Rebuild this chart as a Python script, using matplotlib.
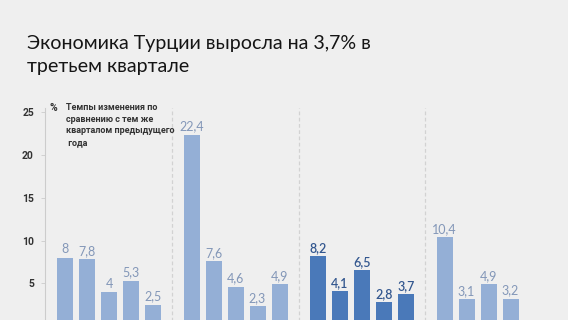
import numpy as np
import matplotlib.pyplot as plt

# values, % change vs same quarter of previous year
group1 = [8, 7.8, 4, 5.3, 2.5]
group2 = [22.4, 7.6, 4.6, 2.3, 4.9]
group3 = [8.2, 4.1, 6.5, 2.8, 3.7]
group4 = [10.4, 3.1, 4.9, 3.2]
groups = [group1, group2, group3, group4]
highlight = [False, False, True, False]
yticks = [5, 10, 15, 20, 25]

title_lines = ["Экономика Турции выросла на 3,7% в", "третьем квартале"]
note = "Темпы изменения по\nсравнению с тем же\nкварталом предыдущего\n года"

BG = "#efefef"
LIGHT = "#94afd6"
DARK = "#4a79b9"
LIGHT_TXT = "#8397b8"
DARK_TXT = "#33578f"

plt.rcParams['font.family'] = ['Lato', 'DejaVu Sans']
BOLD_FONT = ['Roboto', 'DejaVu Sans']

W, H = 568, 320
fig = plt.figure(figsize=(W / 100, H / 100), dpi=100, facecolor=BG)

# axes placed in pixels: y-axis at x=45, zero line just below the image
left, right, top, bottom = 45, 568, 108, 326
ax = fig.add_axes([left / W, (H - bottom) / H, (right - left) / W, (bottom - top) / H])
ax.set_facecolor(BG)

step = 22.0
x0 = 65.0
gap = 5.75
ax.set_xlim((left - x0) / step, (right - x0) / step)
ax.set_ylim(0, 25.5)

for g, vals in enumerate(groups):
    xs = g * gap + np.arange(len(vals))
    col = DARK if highlight[g] else LIGHT
    tcol = DARK_TXT if highlight[g] else LIGHT_TXT
    ax.bar(xs, vals, width=16 / step, color=col, zorder=2)
    for x, v in zip(xs, vals):
        lab = f"{v:g}".replace(".", ",")
        ax.text(x, v + 0.25, lab, ha="center", va="bottom", fontsize=9,
                color=tcol, fontweight="semibold" if highlight[g] else "normal")
    if g < len(groups) - 1:
        ax.axvline(g * gap + len(group1) - 1 + (gap - 4) / 2, ymin=0, ymax=1,
                   color="#d2d2d2", lw=0.9, ls=(0, (3, 2)), zorder=1)

for s in ["top", "right", "bottom"]:
    ax.spines[s].set_visible(False)
ax.spines["left"].set_color("#cccccc")
ax.spines["left"].set_linewidth(0.8)
ax.set_xticks([])
ax.set_yticks(yticks)
ax.set_yticklabels([str(t) for t in yticks])
ax.tick_params(axis="y", length=3, width=0.6, color="#cccccc", pad=5,
               labelsize=7.5, labelcolor="#333333")
for t in ax.get_yticklabels():
    t.set_fontweight("bold")
    t.set_family(BOLD_FONT)

for i, line in enumerate(title_lines):
    fig.text(27 / W, 1 - (49 + 23 * i) / H, line, fontsize=14.1,
             color="#151515", va="baseline", ha="left")
fig.text(50 / W, 1 - 108 / H, "%", fontsize=7.5, fontweight="bold",
         family=BOLD_FONT, color="#333333", va="center", ha="left")
fig.text(66 / W, 1 - 103 / H, note, fontsize=6.5, fontweight="bold",
         family=BOLD_FONT, color="#333333", va="top", ha="left", linespacing=1.38)

fig.savefig("out.png", dpi=100, facecolor=BG)
